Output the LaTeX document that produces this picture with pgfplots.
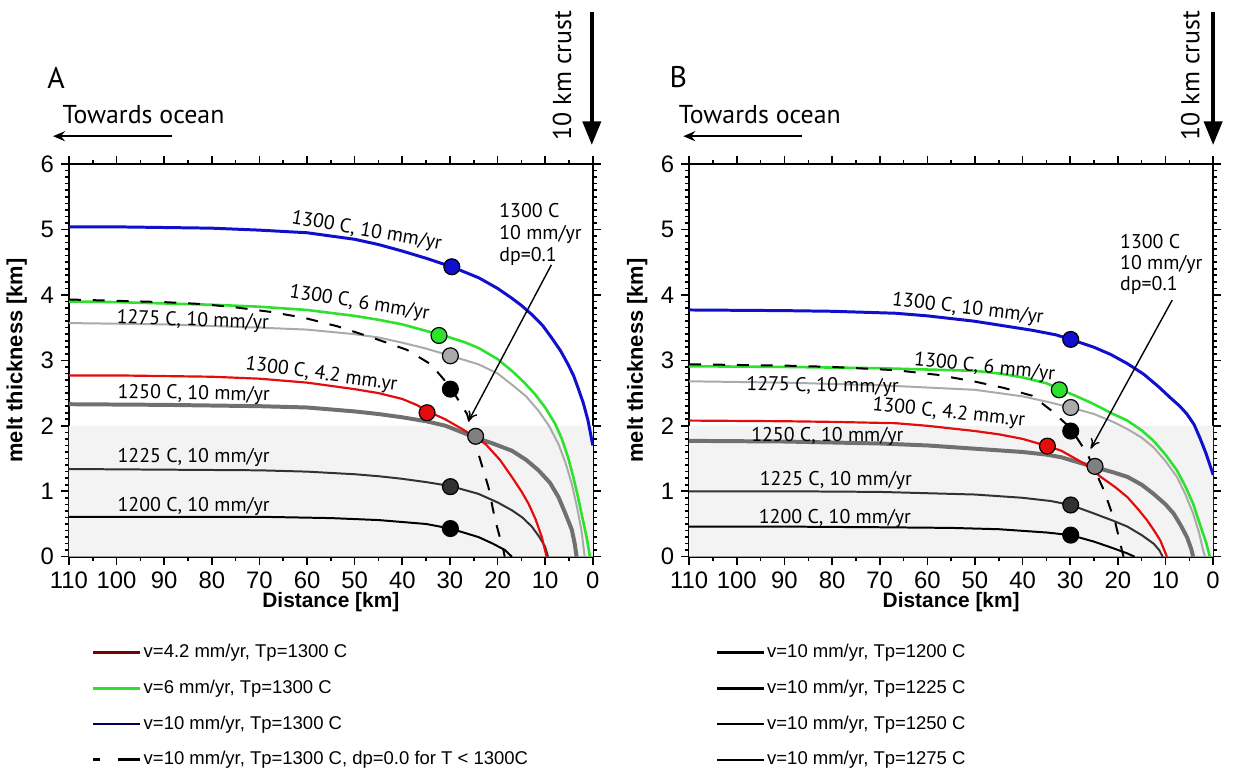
\documentclass[border=0pt]{standalone}
\usepackage{pgfplots}
\pgfplotsset{compat=1.18}
\usepackage{fontspec}
\setmainfont{Liberation Sans}
\newfontfamily\ptsans{PT Sans}
\usetikzlibrary{arrows.meta}
\definecolor{blueC}{RGB}{15,15,205}
\definecolor{greenC}{RGB}{45,225,45}
\definecolor{lgrayC}{RGB}{170,170,170}
\definecolor{mgrayC}{RGB}{112,112,112}
\definecolor{redC}{RGB}{228,12,12}
\definecolor{dgrayC}{RGB}{50,50,50}
\definecolor{shadeC}{RGB}{243,243,243}
\definecolor{legred}{RGB}{120,0,0}
\definecolor{legblue}{RGB}{0,0,90}
\tikzset{lab/.style={font=\ptsans\fontsize{10}{11}\selectfont, inner sep=0pt}}
\pgfplotsset{
  myax/.style={
    scale only axis, width=263.5pt, height=197.5pt,
    xmin=0, xmax=110, x dir=reverse, ymin=0, ymax=6,
    xtick={0,10,...,110}, ytick={0,1,...,6},
    minor x tick num=1, minor y tick num=9,
    tick align=outside, major tick length=4pt, minor tick length=2pt,
    axis line style={line width=1.1pt},
    every tick/.style={black, line width=0.8pt},
    tick label style={font=\fontsize{12}{12}\selectfont},
    /pgf/number format/assume math mode=true,
    clip mode=individual,
    ylabel={melt thickness [km]},
    ylabel style={font=\bfseries\fontsize{11}{12}\selectfont},
    legend cell align=left,
    legend image code/.code={\draw[##1] (0pt,0pt) -- (23.5pt,0pt);},
  },
  dot/.style={only marks, mark=*, mark size=4pt, forget plot, mark options={draw=black, line width=0.6pt, fill=#1}},
}
\begin{document}
\begin{tikzpicture}
% ---------------- Panel A ----------------
\begin{axis}[myax, at={(31pt,-280pt)}, anchor=south west,
  legend style={draw=none, fill=none, at={(axis description cs:0.043,-0.215)}, anchor=north west,
    font=\fontsize{9.3}{10}\selectfont, row sep=7pt, inner sep=0pt,
    nodes={inner sep=1pt, text height=7pt, text depth=2pt},
    /tikz/every even column/.style={column sep=7.5pt}}]
\addlegendimage{legred, line width=1.3pt}\addlegendentry{v=4.2 mm/yr, Tp=1300 C}
\addlegendimage{greenC, line width=1.3pt}\addlegendentry{v=6 mm/yr, Tp=1300 C}
\addlegendimage{legblue, line width=1.3pt}\addlegendentry{v=10 mm/yr, Tp=1300 C}
\addlegendimage{black, line width=1.6pt, dash pattern=on 3.5pt off 9pt on 11pt}\addlegendentry{v=10 mm/yr, Tp=1300 C, dp=0.0 for T < 1300C}
\addplot[fill=shadeC, draw=none, forget plot] coordinates {(110,0)(110,2)(0,2)(0,0)} \closedcycle;
% 1200 C
\addplot[black, line width=1pt, forget plot] coordinates {(110,0.61)(90,0.61)(70,0.61)(55,0.59)(45,0.56)(35,0.5)(29.9,0.43)(24,0.3)(21,0.2)(18.4,0.1)(17,0)};
% 1225 C
\addplot[dgrayC, line width=1pt, forget plot] coordinates {(110,1.34)(90,1.33)(70,1.32)(60,1.3)(50,1.26)(45,1.23)(40,1.19)(35,1.14)(29.9,1.08)(24,0.96)(20,0.83)(17,0.71)(14.8,0.6)(12.8,0.46)(11.2,0.3)(10,0.15)(9.4,0)};
% 1250 C
\addplot[mgrayC, line width=2pt, forget plot] coordinates {(110,2.33)(90,2.32)(70,2.3)(60,2.28)(50,2.22)(45,2.18)(40,2.13)(35,2.07)(30.9,2.0)(24.6,1.82)(21,1.73)(17,1.62)(14,1.48)(11.4,1.32)(9,1.13)(7.2,0.91)(5.7,0.65)(4.4,0.41)(3.8,0.2)(3.4,0)};
% 4.2 mm/yr
\addplot[redC, line width=1.1pt, forget plot] coordinates {(110,2.77)(100,2.77)(90,2.76)(80,2.75)(70,2.72)(60,2.66)(50,2.56)(45,2.5)(40,2.41)(37,2.32)(34.6,2.22)(31,2.1)(27.4,1.95)(22.5,1.72)(19.5,1.48)(17,1.22)(15,1.0)(13.5,0.81)(12,0.57)(10.7,0.3)(9.7,0)};
% 1275 C
\addplot[lgrayC, line width=1pt, forget plot] coordinates {(110,3.57)(90,3.55)(70,3.5)(60,3.47)(50,3.4)(45,3.35)(40,3.27)(35,3.18)(29.9,3.07)(24,2.94)(20,2.8)(17,2.63)(14,2.45)(11.4,2.23)(9.2,2.0)(7.2,1.72)(5.7,1.43)(4.4,1.11)(3.3,0.75)(2.4,0.41)(1.7,0)};
% 6 mm/yr
\addplot[greenC, line width=1.3pt, forget plot] coordinates {(110,3.9)(100,3.89)(90,3.87)(80,3.85)(70,3.82)(60,3.77)(50,3.68)(45,3.62)(40,3.55)(35,3.45)(30.9,3.37)(27,3.28)(24,3.19)(20,3.02)(17,2.84)(14.5,2.67)(12.1,2.48)(10,2.28)(7.9,2.03)(6.5,1.8)(5.2,1.52)(4.1,1.22)(3.1,0.91)(2.2,0.6)(1.3,0.3)(0.6,0)};
% 10 mm/yr
\addplot[blueC, line width=1.5pt, forget plot] coordinates {(110,5.04)(100,5.04)(90,5.03)(80,5.02)(70,4.99)(60,4.95)(50,4.85)(45,4.77)(40,4.67)(35,4.56)(29.6,4.43)(23.9,4.26)(20,4.1)(17,3.95)(15,3.84)(12.8,3.7)(10.5,3.53)(8.6,3.34)(6.8,3.15)(5.2,2.94)(4,2.76)(3.1,2.58)(2,2.35)(1,2.08)(0,1.7)};
% dashed dp=0.0
\addplot[black, line width=1pt, dash pattern=on 6pt off 6pt, forget plot] coordinates {(110,3.93)(100,3.91)(90,3.89)(82,3.86)(75,3.81)(67.6,3.74)(60.6,3.65)(53.6,3.52)(46,3.34)(39,3.16)(34,2.94)(30,2.6)(26.4,2.18)(24,1.57)(21.9,1.06)(20.5,0.56)(18.7,0.08)(18.5,0)};
% dots
\addplot[dot=blueC] coordinates {(29.6,4.43)};
\addplot[dot=greenC] coordinates {(32.3,3.38)};
\addplot[dot=lgrayC] coordinates {(29.9,3.07)};
\addplot[dot=black] coordinates {(29.9,2.56)};
\addplot[dot=redC] coordinates {(34.8,2.2)};
\addplot[dot=gray] coordinates {(24.6,1.84)};
\addplot[dot=dgrayC] coordinates {(29.9,1.07)};
\addplot[dot=black] coordinates {(29.9,0.43)};
% labels
\node[lab, rotate=-10] at (axis cs:47.5,4.97) {1300 C, 10 mm/yr};
\node[lab, rotate=-9] at (axis cs:49,3.87) {1300 C, 6 mm/yr};
\node[lab, rotate=-2] at (axis cs:84,3.6) {1275 C, 10 mm/yr};
\node[lab, rotate=-8] at (axis cs:57,2.78) {1300 C, 4.2 mm.yr};
\node[lab, rotate=-1] at (axis cs:83.8,2.48) {1250 C, 10 mm/yr};
\node[lab] at (axis cs:83.8,1.52) {1225 C, 10 mm/yr};
\node[lab] at (axis cs:83.8,0.77) {1200 C, 10 mm/yr};
\node[lab, anchor=north west, align=left] at (axis cs:19.7,5.40) {1300 C\\10 mm/yr\\dp=0.1};
\draw[-{To[length=5pt,width=5pt]}, line width=0.7pt] (axis cs:8.7,4.46) -- (axis cs:26.1,2.07);
\node[font=\bfseries\fontsize{10.5}{12}\selectfont] at (axis description cs:0.5,0) [yshift=-23pt] {Distance [km]};
\end{axis}
% ---------------- Panel B ----------------
\begin{axis}[myax, at={(343pt,-280pt)}, anchor=south west,
  legend style={draw=none, fill=none, at={(axis description cs:0.049,-0.215)}, anchor=north west,
    font=\fontsize{9.3}{10}\selectfont, row sep=7pt, inner sep=0pt,
    nodes={inner sep=1pt, text height=7pt, text depth=2pt},
    /tikz/every even column/.style={column sep=4.5pt}}]
\addlegendimage{black, line width=1.6pt}\addlegendentry{v=10 mm/yr, Tp=1200 C}
\addlegendimage{black, line width=1.3pt}\addlegendentry{v=10 mm/yr, Tp=1225 C}
\addlegendimage{black, line width=1.3pt}\addlegendentry{v=10 mm/yr, Tp=1250 C}
\addlegendimage{black, line width=0.7pt}\addlegendentry{v=10 mm/yr, Tp=1275 C}
\addplot[fill=shadeC, draw=none, forget plot] coordinates {(110,0)(110,2)(0,2)(0,0)} \closedcycle;
\addplot[black, line width=1pt, forget plot] coordinates {(110,0.46)(90,0.46)(70,0.45)(55,0.44)(45,0.42)(35,0.37)(29.9,0.33)(25,0.23)(21,0.13)(18,0.05)(16.5,0)};
\addplot[dgrayC, line width=1pt, forget plot] coordinates {(110,1.0)(90,1.0)(70,0.99)(60,0.97)(50,0.95)(40,0.9)(34,0.85)(29.9,0.79)(25,0.66)(21,0.55)(18,0.46)(15,0.33)(12.5,0.2)(11.3,0.1)(10.6,0)};
\addplot[mgrayC, line width=2pt, forget plot] coordinates {(110,1.77)(90,1.76)(70,1.73)(60,1.7)(50,1.65)(40,1.6)(35,1.56)(31.9,1.52)(25,1.37)(21,1.29)(18,1.22)(15,1.1)(12.5,0.96)(10,0.8)(8.3,0.66)(6.8,0.48)(5.5,0.3)(4.6,0.12)(4.2,0)};
\addplot[redC, line width=1.1pt, forget plot] coordinates {(110,2.08)(90,2.07)(80,2.06)(66.7,2.04)(60,2.0)(50,1.92)(45,1.87)(40,1.8)(34.8,1.69)(31.9,1.62)(27,1.42)(23.6,1.22)(20.5,1.06)(18,0.91)(15.8,0.73)(13.9,0.56)(12.4,0.4)(11.1,0.25)(9.7,0)};
\addplot[lgrayC, line width=1pt, forget plot] coordinates {(110,2.68)(90,2.66)(70,2.62)(50,2.55)(40,2.45)(35,2.37)(29.9,2.28)(25,2.18)(21,2.06)(18,1.95)(15,1.82)(12.5,1.67)(10,1.46)(7.6,1.22)(5.8,0.95)(4.2,0.66)(3,0.38)(2.1,0.1)(1.7,0)};
\addplot[greenC, line width=1.3pt, forget plot] coordinates {(110,2.91)(90,2.9)(70,2.88)(50,2.84)(45,2.8)(40,2.74)(35,2.65)(31.9,2.55)(28,2.43)(25,2.33)(21,2.18)(18,2.08)(15,1.93)(12.5,1.77)(10,1.56)(7.6,1.32)(5.8,1.07)(4.2,0.81)(2.8,0.5)(1.4,0.2)(0.7,0)};
\addplot[blueC, line width=1.5pt, forget plot] coordinates {(110,3.77)(90,3.76)(80,3.75)(66.7,3.72)(60,3.68)(50.3,3.6)(45,3.54)(38,3.46)(33,3.39)(29.9,3.32)(25,3.2)(21.5,3.09)(18,2.95)(14.6,2.79)(11.5,2.6)(9,2.43)(7,2.3)(5.5,2.18)(4,2.02)(2.8,1.82)(1.5,1.58)(0.3,1.32)(0,1.25)};
\addplot[black, line width=1pt, dash pattern=on 6pt off 6pt, forget plot] coordinates {(110,2.94)(90,2.92)(80,2.9)(66.7,2.85)(58,2.78)(50.3,2.68)(44,2.58)(38,2.46)(33.9,2.23)(30,1.97)(26.4,1.57)(22.9,1.01)(20.5,0.51)(19,0.05)(18.8,0)};
\addplot[dot=blueC] coordinates {(29.9,3.32)};
\addplot[dot=greenC] coordinates {(32.3,2.55)};
\addplot[dot=lgrayC] coordinates {(29.9,2.28)};
\addplot[dot=black] coordinates {(29.9,1.92)};
\addplot[dot=redC] coordinates {(34.8,1.69)};
\addplot[dot=gray] coordinates {(24.8,1.38)};
\addplot[dot=dgrayC] coordinates {(29.9,0.79)};
\addplot[dot=black] coordinates {(29.9,0.33)};
\node[lab, rotate=-7] at (axis cs:51.5,3.78) {1300 C, 10 mm/yr};
\node[lab, rotate=-6] at (axis cs:48,2.89) {1300 C, 6 mm/yr};
\node[lab, rotate=-1] at (axis cs:82,2.6) {1275 C, 10 mm/yr};
\node[lab, rotate=-6] at (axis cs:55.5,2.19) {1300 C, 4.2 mm.yr};
\node[lab] at (axis cs:81,1.84) {1250 C, 10 mm/yr};
\node[lab] at (axis cs:79.2,1.16) {1225 C, 10 mm/yr};
\node[lab] at (axis cs:79.4,0.58) {1200 C, 10 mm/yr};
\node[lab, anchor=north west, align=left, font=\ptsans\fontsize{10}{10.5}\selectfont] at (axis cs:19.6,4.93) {1300 C\\10 mm/yr\\dp=0.1};
\draw[-{To[length=5pt,width=5pt]}, line width=0.7pt] (axis cs:8.6,3.92) -- (axis cs:25.7,1.65);
\node[font=\bfseries\fontsize{10.5}{12}\selectfont] at (axis description cs:0.5,0) [yshift=-23pt] {Distance [km]};
\end{axis}
% ---------------- annotations (pixel frame) ----------------
\begin{scope}[x=0.5pt,y=-0.5pt]
\node[font=\ptsans\fontsize{15}{15}\selectfont] at (49,78) {A};
\node[font=\ptsans\fontsize{13}{13}\selectfont] at (137,115) {Towards ocean};
\draw[line width=1.1pt, -{Stealth[length=6pt,width=5pt]}] (166,137) -- (46,137);
\node[font=\ptsans\fontsize{13}{13}\selectfont, rotate=90] at (558,76) {10 km crust};
\draw[line width=2.2pt, -{Triangle[length=12pt,width=9pt]}] (588,12) -- (588,146);
\node[font=\ptsans\fontsize{15}{15}\selectfont] at (675,78) {B};
\node[font=\ptsans\fontsize{13}{13}\selectfont] at (757,115) {Towards ocean};
\draw[line width=1.1pt, -{Stealth[length=6pt,width=5pt]}] (799,137) -- (680,137);
\node[font=\ptsans\fontsize{13}{13}\selectfont, rotate=90] at (1190,76) {10 km crust};
\draw[line width=2.2pt, -{Triangle[length=12pt,width=9pt]}] (1213,12) -- (1213,146);
\path (0,0) rectangle (1234,770);
\end{scope}
\end{tikzpicture}
\end{document}
